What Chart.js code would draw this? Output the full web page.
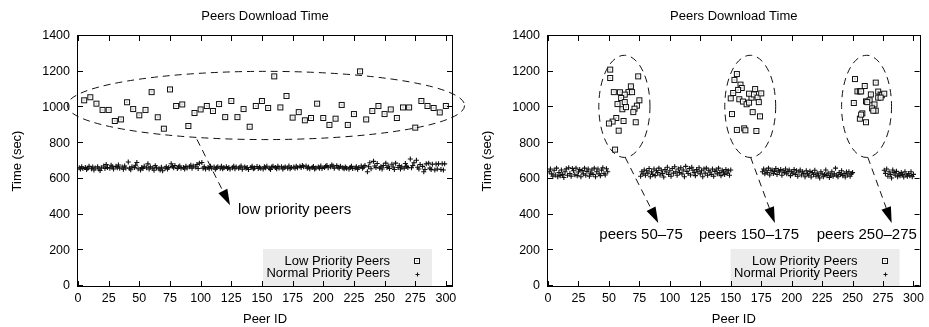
<!DOCTYPE html>
<html><head><meta charset="utf-8">
<script src="https://cdn.jsdelivr.net/npm/chart.js@4.4.1/dist/chart.umd.min.js"></script>
<style>
html,body{margin:0;padding:0;background:#fff;}
#wrap{position:relative;width:929px;height:327px;overflow:hidden;background:#fff;}
#c1{position:absolute;left:0;top:0;}
#c2{position:absolute;left:464px;top:0;}
</style></head><body>
<div id="wrap"><canvas id="c1" width="470" height="327"></canvas><canvas id="c2" width="465" height="327"></canvas></div>
<script>
const chartTitle = "Peers Download Time";
const xAxisTitle = "Peer ID";
const yAxisTitle = "Time (sec)";
const seriesNames = ["Low Priority Peers", "Normal Priority Peers"];
const xTickValues = [0,25,50,75,100,125,150,175,200,225,250,275,300];
const yTickValues = [0,200,400,600,800,1000,1200,1400];

// ---- Left chart: low priority peers spread across the whole range ----
const leftLowIds = [5,10,15,20,25,30,35,40,45,50,55,60,65,70,75,80,85,90,95,100,
  105,110,115,120,125,130,135,140,145,150,155,160,165,170,175,180,185,190,195,200,
  205,210,215,220,225,230,235,240,245,250,255,260,265,270,275,280,285,290,295,300];
const leftLowTimes = [1040,1057,1021,986,986,924,933,1029,991,956,986,1086,945,881,1101,1008,1017,896,969,989,
  1008,980,1019,946,1036,946,991,892,1008,1036,997,1174,1000,1064,943,974,928,941,1021,941,
  902,937,1014,902,963,1202,933,980,1008,963,989,941,1000,1000,887,1036,1008,997,972,1008];
// normal peers: every id from 1 to 300 that is not a low priority id
const leftNormalTimes = [
  662,655,668,658, 664,652,660,670, 657,666,650,661, 668,655,647,662, 672,658,680,664,
  660,676,668,655, 670,662,678,659, 666,654,672,661, 694,660,651,668, 663,676,692,657,
  650,664,658,671, 662,684,655,667, 660,648,674,662, 657,650,665,645, 660,668,655,663,
  685,670,662,675, 658,666,672,660, 664,655,670,661, 668,676,660,672, 666,680,658,688,
  692,660,668,655, 663,657,670,659, 666,654,662,668, 660,671,656,664, 668,658,664,655,
  662,670,657,666, 659,665,672,654, 667,660,663,652, 664,670,656,661, 669,658,665,660,
  655,668,662,671, 660,653,666,670, 663,657,670,661, 668,655,662,667, 660,672,657,664,
  666,659,671,662, 670,664,675,668, 672,660,666,657, 663,669,655,661, 667,660,672,658,
  664,670,675,662, 668,678,672,660, 674,665,660,670, 662,656,667,660, 655,664,670,658,
  661,668,654,663, 672,660,666,675, 640,668,690,657, 698,672,664,686, 660,668,655,675,
  688,664,672,658, 682,666,652,688, 664,675,655,668, 660,686,670,663, 711,662,675,690,
  704,665,655,680, 670,640,652,684, 688,660,652,682, 650,683,655,684, 652,685,650,684];

// ---- Right chart: low priority peers grouped in three id ranges ----
const rightLowIds = [
  51,51,74,54,59,68,66,69,63,60,75,57,63,61,64,73,71,70,56,62,53,50,72,58,55,
  155,153,158,159,156,152,150,157,160,163,165,167,165,170,169,172,175,173,168,174,151,155,161,162,171,
  252,269,260,254,256,257,265,271,273,274,276,271,273,261,264,251,268,266,269,267,258,256,261,257,262];
const rightLowTimes = [
  1212,1165,1174,1086,1085,1118,1086,1086,1072,1053,1040,1019,1030,990,1002,1010,993,974,941,924,921,910,917,870,764,
  1187,1154,1128,1109,1098,1081,1051,1046,1033,1018,1027,1055,1077,1103,1073,1055,1079,1030,974,950,963,874,883,872,868,
  1159,1139,1120,1090,1090,1090,1073,1089,1072,1068,1077,1055,1055,1034,1040,1025,1017,995,982,982,967,937,917,960,1030];
const rightNormalIdRanges = [[1,49],[76,150],[176,250],[276,300]];
const rightNormalTimes = [
  640,655,628,615,648,622,660,612,635,618, 650,625,608,640,656,620,662,630,615,658,
  645,623,660,618,638,652,612,646,628,660, 620,642,655,615,632,650,625,660,612,640,
  655,628,618,648,662,630,622,657,640,
  615,640,628,650,620,645,632,658,612,640, 625,655,618,645,635,660,622,648,630,610,
  652,638,665,625,645,615,658,632,668,640, 620,655,635,662,628,650,612,670,642,630,
  658,622,665,648,635,618,652,640,662,628, 645,612,655,632,660,620,648,638,625,655,
  615,642,650,628,660,635,618,648,640,625, 652,632,645,620,650,
  640,655,628,648,635,660,622,645,650,630, 642,658,625,648,638,652,620,645,635,655,
  628,642,650,618,640,632,652,625,645,615, 638,650,622,640,630,612,645,628,620,642,
  610,635,625,648,615,632,620,605,640,628, 612,625,650,618,632,608,622,640,615,628,
  660,620,612,635,625,645,618,630,610,638, 622,640,615,628,635,
  648,630,655,615,640,625,605,650,635,620, 642,612,628,618,635,625,610,640,622,615,
  630,618,640,612,625];

// ---- build point tables ----
function zip(ids, vals){ const n=Math.min(ids.length, vals.length); const o=[]; for(let i=0;i<n;i++) o.push({x:ids[i], y:vals[i]}); return o; }
const leftNormalIds = [];
for (let id=1; id<=300; id++) if (!leftLowIds.includes(id)) leftNormalIds.push(id);
const rightNormalIds = [];
rightNormalIdRanges.forEach(([a,b]) => { for (let id=a; id<=b; id++) rightNormalIds.push(id); });

// ---- annotations (data coordinates) ----
const leftNotes = {
  ellipses: [{cx:153.3, cy:1011, rx:162, ry:191}],
  arrows: [{x1:97, y1:821, x2:124, y2:452}],
  labels: [{x:130.4, y:424, text:"low priority peers", align:"left"}]
};
const rightNotes = {
  ellipses: [{cx:62.7, cy:1006, rx:21, ry:286},{cx:166, cy:1006, rx:20.9, ry:286},{cx:261.5, cy:1006, rx:20.5, ry:286}],
  arrows: [{x1:63.3, y1:721, x2:90.5, y2:353},{x1:166.3, y1:721, x2:186.2, y2:353},{x1:262.5, y1:721, x2:282.1, y2:353}],
  labels: [{x:76.4, y:284, text:"peers 50\u201375", align:"center"},{x:165, y:284, text:"peers 150\u2013175", align:"center"},{x:261.7, y:284, text:"peers 250\u2013275", align:"center"}]
};

// ---- marker images ----
const INK = '#111';
function makeSquare(){
  const c=document.createElement('canvas'); c.width=8; c.height=8;
  const g=c.getContext('2d');
  g.fillStyle='#fff'; g.fillRect(1,1,6,6);
  g.strokeStyle='#111'; g.lineWidth=1; g.strokeRect(1.5,1.5,5,5);
  g.fillStyle='rgba(20,20,20,0.7)'; g.fillRect(3.5,3.5,1,1);
  return c;
}
const squareImg = makeSquare();
const FONT = '"Liberation Sans", Arial, Helvetica, sans-serif';

function drawPlus(ctx, x, y, r){
  ctx.beginPath(); ctx.moveTo(x-r,y); ctx.lineTo(x+r,y); ctx.moveTo(x,y-r); ctx.lineTo(x,y+r); ctx.stroke();
}

function decorPlugin(notes){
  return {
    id:'decor',
    beforeDatasetsDraw(chart){
      const ctx=chart.ctx, a=chart.chartArea;
      ctx.save();
      ctx.fillStyle='#ececec';
      ctx.fillRect(a.right-189, a.bottom-37, 169, 37);
      ctx.restore();
    },
    afterDraw(chart){
      const ctx=chart.ctx, a=chart.chartArea, xs=chart.scales.x, ys=chart.scales.y;
      ctx.save();
      // frame
      ctx.strokeStyle='#000'; ctx.lineWidth=1;
      ctx.strokeRect(Math.round(a.left)-0.5, Math.round(a.top)-0.5, Math.round(a.right-a.left)+1, Math.round(a.bottom-a.top)+1);
      // inward ticks on all four sides
      ctx.beginPath();
      xTickValues.forEach(v=>{ const p=Math.round(xs.getPixelForValue(v))+0.5;
        ctx.moveTo(p,a.bottom); ctx.lineTo(p,a.bottom-5); ctx.moveTo(p,a.top); ctx.lineTo(p,a.top+5); });
      yTickValues.forEach(v=>{ const p=Math.round(ys.getPixelForValue(v))-0.5;
        ctx.moveTo(a.left,p); ctx.lineTo(a.left+5,p); ctx.moveTo(a.right,p); ctx.lineTo(a.right-5,p); });
      ctx.stroke();
      // texts
      ctx.fillStyle='#000';
      ctx.font='13px '+FONT; ctx.textAlign='center'; ctx.textBaseline='middle';
      const cx=(a.left+a.right)/2;
      ctx.fillText(chartTitle, cx, 16);
      ctx.fillText(xAxisTitle, cx, 319);
      ctx.save(); ctx.translate(a.left-61, (a.top+a.bottom)/2); ctx.rotate(-Math.PI/2);
      ctx.fillText(yAxisTitle, 0, 0); ctx.restore();
      // legend
      ctx.textAlign='right';
      ctx.fillText(seriesNames[0], a.right-62, a.bottom-25);
      ctx.fillText(seriesNames[1], a.right-62, a.bottom-12.5);
      ctx.drawImage(squareImg, Math.round(a.right-35)-4, Math.round(a.bottom-25)-4);
      ctx.strokeStyle=INK; ctx.lineWidth=1;
      drawPlus(ctx, Math.round(a.right-35)+0.5, Math.round(a.bottom-12.5)+0.5, 2);
      // annotations
      ctx.strokeStyle='#111'; ctx.lineWidth=1; ctx.setLineDash([7,5]);
      notes.ellipses.forEach(e=>{
        const px=xs.getPixelForValue(e.cx), py=ys.getPixelForValue(e.cy);
        const rx=Math.abs(xs.getPixelForValue(e.cx+e.rx)-px), ry=Math.abs(ys.getPixelForValue(e.cy+e.ry)-py);
        ctx.beginPath(); ctx.ellipse(px,py,rx,ry,0,0,Math.PI*2); ctx.stroke();
      });
      notes.arrows.forEach(r=>{
        const x1=xs.getPixelForValue(r.x1), y1=ys.getPixelForValue(r.y1);
        const x2=xs.getPixelForValue(r.x2), y2=ys.getPixelForValue(r.y2);
        const dx=x2-x1, dy=y2-y1, L=Math.hypot(dx,dy), ux=dx/L, uy=dy/L;
        const hl=16, hw=5;
        const bx=x2-ux*hl, by=y2-uy*hl;
        ctx.setLineDash([7,5]);
        ctx.beginPath(); ctx.moveTo(x1,y1); ctx.lineTo(bx,by); ctx.stroke();
        ctx.setLineDash([]);
        ctx.fillStyle='#000';
        ctx.beginPath(); ctx.moveTo(x2,y2); ctx.lineTo(bx-uy*hw, by+ux*hw); ctx.lineTo(bx+uy*hw, by-ux*hw); ctx.closePath(); ctx.fill();
      });
      ctx.setLineDash([]);
      ctx.fillStyle='#000'; ctx.font='15px '+FONT; ctx.textBaseline='middle';
      notes.labels.forEach(l=>{
        ctx.textAlign=l.align;
        ctx.fillText(l.text, xs.getPixelForValue(l.x), ys.getPixelForValue(l.y));
      });
      ctx.restore();
    }
  };
}

function makeChart(canvasId, lowPts, normalPts, notes, yWidth, rightPad){
  return new Chart(document.getElementById(canvasId), {
    type:'scatter',
    data:{ datasets:[
      { label:seriesNames[0], data:lowPts, pointStyle:squareImg, pointRadius:3, showLine:false },
      { label:seriesNames[1], data:normalPts, pointStyle:'cross', pointRadius:2.5, borderColor:INK, backgroundColor:INK, borderWidth:1.1, showLine:false }
    ]},
    options:{
      responsive:false, animation:false, events:[],
      layout:{ padding:{ top:36, right:rightPad, left:0, bottom:0 } },
      plugins:{ legend:{display:false}, tooltip:{enabled:false}, title:{display:false} },
      scales:{
        x:{ type:'linear', min:0, max:305,
            afterBuildTicks:(s)=>{ s.ticks = xTickValues.map(v=>({value:v})); },
            afterFit:(s)=>{ s.height = 41; },
            grid:{display:false, drawTicks:false}, border:{display:false},
            ticks:{ autoSkip:false, maxRotation:0, padding:5, color:'#000', font:{family:FONT, size:12.5}, callback:(v)=>String(v) } },
        y:{ type:'linear', min:0, max:1400,
            afterBuildTicks:(s)=>{ s.ticks = yTickValues.map(v=>({value:v})); },
            afterFit:(s)=>{ s.width = yWidth; },
            grid:{display:false, drawTicks:false}, border:{display:false},
            ticks:{ padding:8, color:'#000', font:{family:FONT, size:12.5}, callback:(v)=>String(v) } }
      }
    },
    plugins:[decorPlugin(notes)]
  });
}

makeChart('c1', zip(leftLowIds, leftLowTimes), zip(leftNormalIds, leftNormalTimes), leftNotes, 78, 18);
makeChart('c2', zip(rightLowIds, rightLowTimes), zip(rightNormalIds, rightNormalTimes), rightNotes, 84, 6);
</script>
</body></html>
